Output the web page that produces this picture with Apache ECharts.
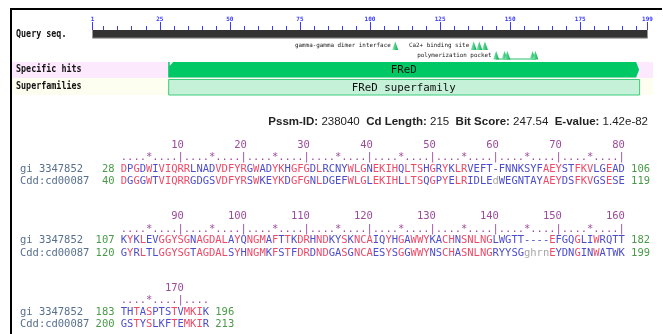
<!DOCTYPE html>
<html><head><meta charset="utf-8">
<script src="https://cdn.jsdelivr.net/npm/echarts@6/dist/echarts.min.js"></script>
<style>html,body{margin:0;padding:0;background:#fff}#c{width:663px;height:334px}</style>
</head><body><div id="c"></div>
<script>
// ---------------- data ----------------
const queryLength = 199;
const axisMajorTicks = [1, 25, 50, 75, 100, 125, 150, 175, 199];
const axisMinorTicks = [5,10,15,20,30,35,40,45,55,60,65,70,80,85,90,95,105,110,115,120,130,135,140,145,155,160,165,170,180,185,190,195];
const rowLabels = ['Query seq.', 'Specific hits', 'Superfamilies'];
const hitName = 'FReD';
const hitRange = [28, 196];
const superfamilyName = 'FReD superfamily';
const superfamilyRange = [28, 196];
const siteNames = ['gamma-gamma dimer interface', 'Ca2+ binding site', 'polymerization pocket'];
const siteResidues = [[109], [137, 139, 141], [145, 148, 149, 158, 159]];
const statsLabels = ['Pssm-ID:', 'Cd Length:', 'Bit Score:', 'E-value:'];
const statsValues = ['238040', '215', '247.54', '1.42e-82'];
const queryName = 'gi 3347852';
const cdName = 'Cdd:cd00087';
const querySeq = [
  'DPGDWIVIQRRLNADVDFYRGWADYKHGFGDLRCNYWLGNEKIHQLTSHGRYKLRVEFT-FNNKSYFAEYSTFKVLGEAD',
  'KYKLEVGGYSGNAGDALAYQNGMAFTTKDRHNDKYSKNCAIQYHGAWWYKACHNSNLNGLWGTT----EFGQGLIWRQTT',
  'THTASPTSTVMKIK'
];
const queryStart = [28, 107, 183];
const queryEnd = [106, 182, 196];
const cdSeq = [
  'DGGGWTVIQRRGDGSVDFYRSWKEYKDGFGNLDGEFWLGLEKIHLLTSQGPYELRIDLEdWEGNTAYAEYDSFKVGSESE',
  'GYRLTLGGYSGTAGDALSYHNGMKFSTFDRDNDGASGNCAESYSGGWWYNSCHASNLNGRYYSGghrnEYDNGINWATWK',
  'GSTYSLKFTEMKIR'
];
const cdStart = [40, 120, 200];
const cdEnd = [119, 199, 213];
const rulerLabels = [10, 20, 30, 40, 50, 60, 70, 80, 90, 100, 110, 120, 130, 140, 150, 160, 170];

// ---------------- layout / style ----------------
const MONO = "'DejaVu Sans Mono', monospace";
const RED = '#ee4a68', BLUE = '#4d4dcc', GRAY = '#a8a8a8', RULER = '#9c4a9c', LABEL = '#58708e', NUM = '#4a9a4a';
const charW = 6.3, colX0 = 20, blockCols = 80;
const siteLane = [0, 0, 1];
const graphics = [];

// frame
graphics.push({type:'rect', shape:{x:10, y:8, width:652, height:2}, style:{fill:'#000'}});
graphics.push({type:'rect', shape:{x:10, y:8, width:2, height:330}, style:{fill:'#000'}});
// track backgrounds
graphics.push({type:'rect', shape:{x:12, y:62, width:641, height:16}, style:{fill:'#fde9fd'}, z:-1});
graphics.push({type:'rect', shape:{x:12, y:78, width:641, height:17}, style:{fill:'#fefef0'}, z:-1});
// row labels
const rowY = [34.5, 69.5, 86.5];
rowLabels.forEach((t, i) => graphics.push({type:'text', x:16, y:rowY[i], scaleY:1.15,
  style:{text:t, font:"bold 8.4px " + MONO, fill:'#111', align:'left', verticalAlign:'middle', textAlign:'left', textVerticalAlign:'middle'}}));

// stats line
const rich = {b:{font:"bold 11.5px 'Liberation Sans', Arial, sans-serif", fill:'#222', color:'#222'}, n:{font:"11.5px 'Liberation Sans', Arial, sans-serif", fill:'#222', color:'#222'}};
const statsText = statsLabels.map((l, i) => '{b|' + l + '}{n| ' + statsValues[i] + '}').join('{n|  }');
graphics.push({type:'text', x:648, y:122, style:{text:statsText, rich:rich, align:'right', verticalAlign:'middle', textAlign:'right', textVerticalAlign:'middle'}});

function ch(col, y, c, color) {
  graphics.push({type:'text', x:colX0 + col * charW + charW / 2, y:y,
    style:{text:c, font:"10.5px " + MONO, fill:color, align:'center', verticalAlign:'middle', textAlign:'center', textVerticalAlign:'middle'}});
}
function str(col, y, s, color) { for (let i = 0; i < s.length; i++) if (s[i] !== ' ') ch(col + i, y, s[i], color); }

querySeq.forEach((qs, b) => {
  const cs = cdSeq[b];
  const off = b * 71.5;
  const yNum = 145 + off, yDot = 157.5 + off, yQ = 169 + off, yC = 181.5 + off;
  for (let i = 0; i < qs.length; i++) {
    const p = b * blockCols + i + 1;
    ch(16 + i, yDot, p % 10 === 0 ? '|' : (p % 5 === 0 ? '*' : '.'), RULER);
  }
  rulerLabels.filter(L => Math.floor((L - 1) / blockCols) === b).forEach(L => {
    const s = String(L), endCol = 16 + (L - b * blockCols - 1);
    str(endCol - s.length + 1, yNum, s, RULER);
  });
  // name & numbers
  str(0, yQ, queryName, LABEL);
  str(0, yC, cdName, LABEL);
  str(12, yQ, String(queryStart[b]).padStart(3), NUM);
  str(12, yC, String(cdStart[b]).padStart(3), NUM);
  str(17 + qs.length, yQ, String(queryEnd[b]), NUM);
  str(17 + cs.length, yC, String(cdEnd[b]), NUM);
  for (let i = 0; i < qs.length; i++) {
    const a = qs[i], c = cs[i];
    const same = a === c && a !== '-';
    const col = same ? RED : BLUE;
    ch(16 + i, yQ, a, a === a.toLowerCase() && a !== '-' ? GRAY : col);
    ch(16 + i, yC, c, c === c.toLowerCase() && c !== '-' ? GRAY : col);
  }
});

// site data for custom series
const siteData = [];
siteResidues.forEach((arr, f) => arr.forEach((r, k) => siteData.push([r, f, k])));

const triFill = {type:'linear', x:0, y:0, x2:1, y2:0, colorStops:[{offset:0, color:'#9ae8bc'}, {offset:0.5, color:'#3fcf80'}, {offset:1, color:'#17a253'}]};

const option = {
  animation: false,
  grid: {left: 92.5, right: 15.5, top: 30, height: 65},
  xAxis: [
    {type:'value', min:1, max:queryLength, position:'top', axisLine:{show:false}, splitLine:{show:false},
     axisTick:{show:true, customValues:axisMajorTicks, length:8, lineStyle:{color:'#3838ff', width:1}},
     axisLabel:{show:true, customValues:axisMajorTicks, fontSize:6, fontFamily:MONO, fontWeight:'bold', color:'#3838ff', margin:8}},
    {type:'value', min:1, max:queryLength, position:'top', axisLine:{show:false}, splitLine:{show:false},
     axisTick:{show:true, customValues:axisMinorTicks, length:4, lineStyle:{color:'#3838ff', width:1}},
     axisLabel:{show:false}}
  ],
  yAxis: {type:'value', min:0, max:65, inverse:true, show:false},
  series: [
    {type:'custom', xAxisIndex:0, data:[[1, queryLength]], renderItem:(p, api) => {
      const a = api.coord([api.value(0), 0]), b = api.coord([api.value(1), 8.3]);
      return {type:'group', children:[
        {type:'rect', shape:{x:a[0], y:a[1], width:b[0]-a[0], height:b[1]-a[1]}, style:{fill:'#333'}},
        {type:'rect', shape:{x:a[0], y:b[1]-1, width:b[0]-a[0], height:1}, style:{fill:'#6a6a6a'}}]};
    }},
    {type:'custom', xAxisIndex:0, data:[[hitRange[0], hitRange[1]]], renderItem:(p, api) => {
      const a = api.coord([api.value(0), 32]), b = api.coord([api.value(1), 47.5]);
      const x0 = a[0], x1 = b[0], t = a[1], bt = b[1], m = (t + bt) / 2;
      return {type:'group', children:[
        {type:'polygon', shape:{points:[[x0, t], [x1 - 3, t], [x1, m], [x1 - 3, bt], [x0, bt]]}, style:{fill:'#00c865'}},
        {type:'polygon', shape:{points:[[x0 + 1.5, t], [x0 + 5, t], [x0 + 1.5, t + 4]]}, style:{fill:'#f4fff8'}},
        {type:'text', x:(x0 + x1) / 2, y:m, style:{text:hitName, font:"10.8px " + MONO, fill:'#111', align:'center', verticalAlign:'middle', textAlign:'center', textVerticalAlign:'middle'}}]};
    }},
    {type:'custom', xAxisIndex:0, data:[[superfamilyRange[0], superfamilyRange[1]]], renderItem:(p, api) => {
      const a = api.coord([api.value(0), 49]), b = api.coord([api.value(1), 64.5]);
      return {type:'group', children:[
        {type:'rect', shape:{x:a[0] + 0.5, y:a[1] + 0.5, width:b[0]-a[0], height:b[1]-a[1]}, style:{fill:'#c4f1d8', stroke:'#3ccc7c', lineWidth:1}},
        {type:'text', x:(a[0] + b[0]) / 2, y:(a[1] + b[1]) / 2 + 1, style:{text:superfamilyName, font:"10.8px " + MONO, fill:'#111', align:'center', verticalAlign:'middle', textAlign:'center', textVerticalAlign:'middle'}}]};
    }},
    {type:'custom', xAxisIndex:0, data:siteData, renderItem:(p, api) => {
      const r = api.value(0), f = api.value(1), k = api.value(2);
      const lane = siteLane[f];
      const top = lane === 0 ? 11.5 : 21, bot = lane === 0 ? 20 : 29.5;
      const tp = api.coord([r, top]), bp = api.coord([r, bot]);
      const children = [{type:'polygon', shape:{points:[[tp[0], tp[1]], [tp[0] - 3, bp[1]], [tp[0] + 3, bp[1]]]}, style:{fill:triFill}}];
      const list = siteResidues[f];
      if (k === 0) {
        children.push({type:'text', x:tp[0] - 4.5, y:(tp[1] + bp[1]) / 2, style:{text:siteNames[f], font:"5.9px " + MONO, fill:'#222', align:'right', verticalAlign:'middle', textAlign:'right', textVerticalAlign:'middle'}});
        if (lane === 1 && list.length > 1) {
          const e = api.coord([list[list.length - 1], bot]);
          children.push({type:'line', shape:{x1:tp[0], y1:bp[1] - 0.5, x2:e[0], y2:bp[1] - 0.5}, style:{stroke:'#2dbb6a', lineWidth:1}});
        }
      }
      return {type:'group', children};
    }}
  ],
  graphic: {elements: graphics}
};
const chart = echarts.init(document.getElementById('c'));
chart.setOption(option);
</script></body></html>
